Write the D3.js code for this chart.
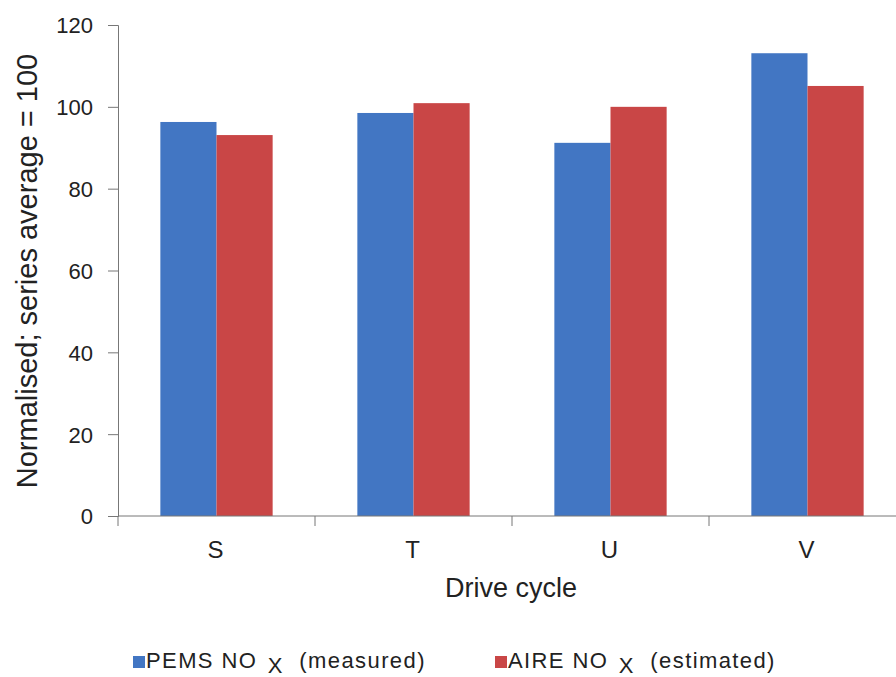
<!DOCTYPE html>
<html><head><meta charset="utf-8">
<script src="https://cdn.jsdelivr.net/npm/d3@7"></script>
<style>body{margin:0;background:#fff}svg{display:block}text{font-family:"Liberation Sans",Arial,sans-serif;fill:#222}</style>
</head><body>
<script>
const categories = ["S","T","U","V"];
const seriesNames = ["PEMS NO", "AIRE NO"];
const seriesSuffix = ["(measured)", "(estimated)"];
const pemsValues = [96.3, 98.5, 91.2, 113.1];
const aireValues = [93.1, 100.9, 100.0, 105.1];
const yTicks = [0,20,40,60,80,100,120];
const colors = ["#4276c3", "#c94646"];

const W=896,H=677;
const svg=d3.select("body").append("svg").attr("width",W).attr("height",H);
const x0=d3.scaleBand().domain(categories).range([118,906]).paddingInner(0.43).paddingOuter(0.215);
const x1=d3.scaleBand().domain([0,1]).range([0,x0.bandwidth()]);
const y=d3.scaleLinear().domain([0,120]).range([516,25]);
const data=categories.map((c,i)=>({c,v:[pemsValues[i],aireValues[i]]}));

const g=svg.append("g");
g.selectAll("g.grp").data(data).join("g").attr("transform",d=>`translate(${x0(d.c)},0)`)
 .selectAll("rect").data(d=>d.v.map((v,k)=>({v,k}))).join("rect")
 .attr("x",d=>x1(d.k)).attr("width",x1.bandwidth())
 .attr("y",d=>y(d.v)).attr("height",d=>y(0)-y(d.v)).attr("fill",d=>colors[d.k]);

// y axis
const ya=svg.append("g").attr("transform","translate(118,0)")
 .call(d3.axisLeft(y).tickValues(yTicks).tickSize(10).tickPadding(15));
ya.select(".domain").attr("stroke","#777");
ya.selectAll(".tick line").attr("stroke","#777");
ya.selectAll("text").style("font-size","22px").attr("fill","#222").attr("dy","0.36em");

// x axis
const xa=svg.append("g").attr("transform","translate(0,516)");
xa.append("line").attr("x1",118).attr("x2",906).attr("stroke","#777");
const bounds=categories.map(c=>x0(c)-x0.step()*x0.paddingInner()/2);
xa.selectAll("line.tk").data(bounds).join("line").attr("class","tk")
 .attr("x1",d=>d).attr("x2",d=>d).attr("y1",0).attr("y2",10).attr("stroke","#777");
xa.selectAll("text").data(categories).join("text")
 .attr("x",d=>x0(d)+x0.bandwidth()/2-1).attr("y",42).attr("text-anchor","middle")
 .style("font-size","24px").text(d=>d);

svg.append("text").attr("x",511).attr("y",597).attr("text-anchor","middle")
 .style("font-size","27px").text("Drive cycle");
svg.append("text").attr("transform","translate(37,271) rotate(-90)").attr("text-anchor","middle")
 .style("font-size","29px").text("Normalised; series average = 100");

// legend
const lx=[133,495];
seriesNames.forEach((n,i)=>{
  svg.append("rect").attr("x",lx[i]).attr("y",656).attr("width",12).attr("height",12).attr("fill",colors[i]);
  const t=svg.append("text").attr("x",lx[i]+13).attr("y",668)
    .style("font-size","22px").style("letter-spacing","1.4px").attr("xml:space","preserve");
  t.append("tspan").text(n+" ");
  t.append("tspan").attr("dy",5).attr("dx",3).text("X");
  t.append("tspan").attr("dy",-5).attr("dx",8).text(" "+seriesSuffix[i]);
});
</script>
</body></html>
